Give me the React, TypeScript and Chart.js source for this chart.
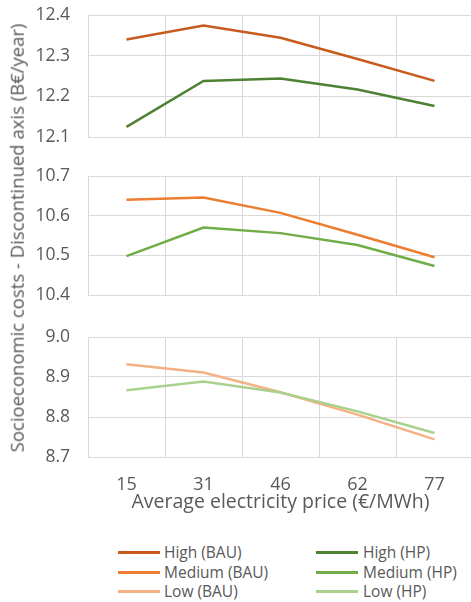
import React, { useEffect, useRef } from 'react';
import { Chart, registerables } from 'chart.js';

Chart.register(...registerables);

// ---- data ----
const categories = ['15', '31', '46', '62', '77'];
const highBAU = [12.34, 12.374, 12.344, 12.292, 12.238];
const highHP = [12.125, 12.238, 12.244, 12.217, 12.176];
const mediumBAU = [10.64, 10.646, 10.607, 10.552, 10.495];
const mediumHP = [10.498, 10.57, 10.556, 10.526, 10.473];
const lowBAU = [8.932, 8.911, 8.862, 8.806, 8.744];
const lowHP = [8.867, 8.889, 8.861, 8.814, 8.76];
const highRange = [12.1, 12.4];
const mediumRange = [10.4, 10.7];
const lowRange = [8.7, 9.0];
const xTitle = 'Average electricity price (€/MWh)';
const yTitle = 'Socioeconomic costs - Discontinued axis (B€/year)';

// ---- styles ----
const COLORS = {
  highBAU: '#C95A1E',
  mediumBAU: '#ED7D31',
  lowBAU: '#F4B183',
  highHP: '#4E8233',
  mediumHP: '#70AD47',
  lowHP: '#A9D18E',
};
const FONT = 'Open Sans';
const TEXT = '#595959';
const GRID = '#D9D9D9';
const PAD = 14;
const PLOT_LEFT = 88;
const X_AXIS_H = 57;
const CANVAS_W = 474;

type Series = { label: string; data: number[]; color: string };

function Panel(props: { series: Series[]; range: number[]; plotTop: number; plotHeight: number; bottom: boolean }) {
  const { series, range, plotTop, plotHeight, bottom } = props;
  const ref = useRef<HTMLCanvasElement | null>(null);
  const bottomPad = bottom ? 12 : PAD;
  const h = PAD + plotHeight + (bottom ? X_AXIS_H : 0) + bottomPad;
  useEffect(() => {
    const chart = new Chart(ref.current as HTMLCanvasElement, {
      type: 'line',
      data: {
        labels: categories,
        datasets: series.map((s) => ({
          label: s.label,
          data: s.data,
          borderColor: s.color,
          backgroundColor: s.color,
          borderWidth: 2.5,
          pointRadius: 0,
          tension: 0,
          fill: false,
        })),
      },
      options: {
        animation: false,
        responsive: false,
        maintainAspectRatio: false,
        events: [],
        layout: { padding: { top: PAD, bottom: bottomPad, left: 0, right: 1 } },
        plugins: { legend: { display: false }, tooltip: { enabled: false } },
        scales: {
          x: {
            offset: true,
            grid: { offset: true, color: GRID, lineWidth: 1, drawTicks: false },
            border: { color: GRID },
            ticks: { display: bottom, padding: 17, color: TEXT, font: { family: FONT, size: 18 } },
            title: { display: bottom, text: xTitle, padding: 0, color: TEXT, font: { family: FONT, size: 19.5 } },
            afterFit: (s: any) => {
              s.height = bottom ? X_AXIS_H : 0;
            },
          },
          y: {
            min: range[0],
            max: range[1],
            ticks: {
              stepSize: 0.1,
              padding: 0,
              color: TEXT,
              font: { family: FONT, size: 17.5 },
              callback: (v: any) => Number(v).toFixed(1),
            },
            grid: { color: GRID, lineWidth: 1, drawTicks: true, tickLength: 18, tickColor: 'rgba(0,0,0,0)' },
            border: { color: GRID },
            afterFit: (s: any) => {
              s.width = PLOT_LEFT;
            },
          },
        },
      },
    } as any);
    return () => chart.destroy();
  }, []);
  return (
    <canvas
      ref={ref}
      width={CANVAS_W}
      height={h}
      style={{ position: 'absolute', left: 0, top: plotTop - PAD, width: CANVAS_W, height: h }}
    />
  );
}

const legendItems = [
  { label: 'High (BAU)', color: COLORS.highBAU, col: 0, row: 0 },
  { label: 'Medium (BAU)', color: COLORS.mediumBAU, col: 0, row: 1 },
  { label: 'Low (BAU)', color: COLORS.lowBAU, col: 0, row: 2 },
  { label: 'High (HP)', color: COLORS.highHP, col: 1, row: 0 },
  { label: 'Medium (HP)', color: COLORS.mediumHP, col: 1, row: 1 },
  { label: 'Low (HP)', color: COLORS.lowHP, col: 1, row: 2 },
];
const legendTops = [542, 562, 581];

export default function App() {
  return (
    <div
      style={{
        position: 'fixed',
        left: 0,
        top: 0,
        width: 471,
        height: 602,
        overflow: 'hidden',
        background: '#fff',
        fontFamily: FONT,
      }}
    >
      <Panel
        series={[
          { label: 'High (BAU)', data: highBAU, color: COLORS.highBAU },
          { label: 'High (HP)', data: highHP, color: COLORS.highHP },
        ]}
        range={highRange}
        plotTop={15}
        plotHeight={122}
        bottom={false}
      />
      <Panel
        series={[
          { label: 'Medium (BAU)', data: mediumBAU, color: COLORS.mediumBAU },
          { label: 'Medium (HP)', data: mediumHP, color: COLORS.mediumHP },
        ]}
        range={mediumRange}
        plotTop={176}
        plotHeight={119}
        bottom={false}
      />
      <Panel
        series={[
          { label: 'Low (HP)', data: lowHP, color: COLORS.lowHP },
          { label: 'Low (BAU)', data: lowBAU, color: COLORS.lowBAU },
        ]}
        range={lowRange}
        plotTop={337}
        plotHeight={120}
        bottom={true}
      />
      <div
        style={{
          position: 'absolute',
          left: 17,
          top: 238,
          transform: 'translate(-50%, -50%) rotate(-90deg)',
          whiteSpace: 'nowrap',
          fontSize: 18.5,
          color: TEXT,
          lineHeight: 1,
        }}
      >
        {yTitle}
      </div>
      {legendItems.map((it) => (
        <div
          key={it.label}
          style={{
            position: 'absolute',
            left: it.col === 0 ? 118 : 316,
            top: legendTops[it.row],
            height: 20,
            display: 'flex',
            alignItems: 'center',
            whiteSpace: 'nowrap',
            fontSize: 15.5,
            lineHeight: '20px',
            color: TEXT,
          }}
        >
          <div style={{ width: 42, height: 3, background: it.color, marginRight: it.col === 0 ? 4 : 5 }} />
          <span>{it.label}</span>
        </div>
      ))}
    </div>
  );
}
